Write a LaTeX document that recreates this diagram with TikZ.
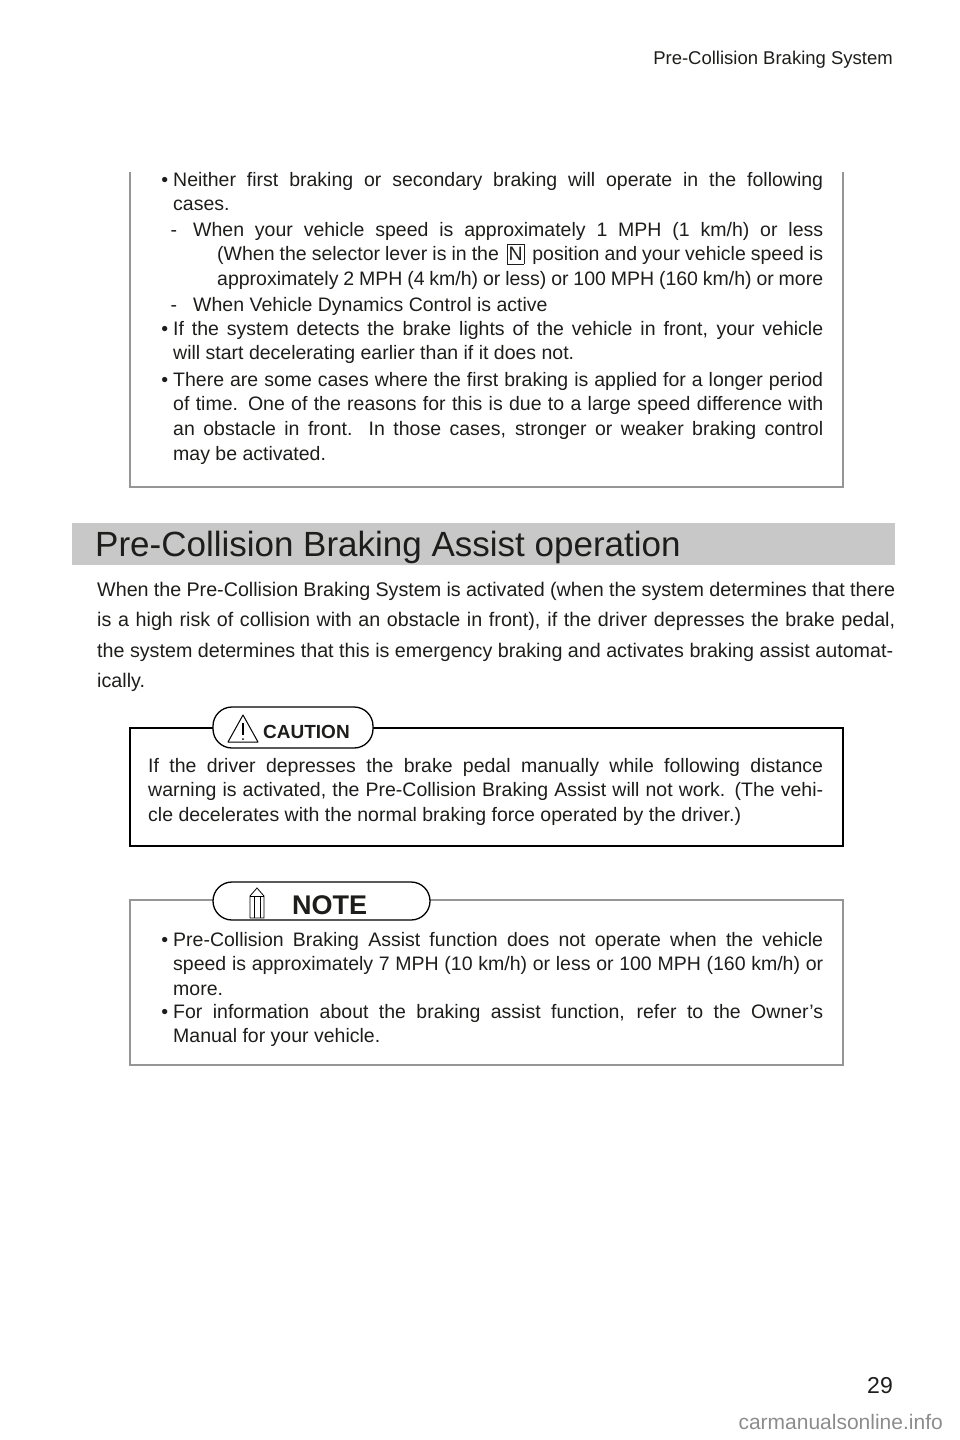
\documentclass[tikz,border=0pt]{standalone}
\usepackage{fontspec}
\setmainfont{Liberation Sans}
\usetikzlibrary{positioning}
\definecolor{colorbar}  {RGB}{200,200,200}
\definecolor{colorframe}{RGB}{150,150,150}
\definecolor{colortext} {RGB}{29 ,29 ,27 }
\definecolor{colormark} {RGB}{140,140,140}

\begin{document}
\begin{tikzpicture}[
    x=1pt, y=-1pt,
    txt/.style={text=colortext,font={\fontsize{19.5}{24.8}\selectfont},inner sep=0pt,anchor=base west,align=justify},
    para/.style={txt,font={\fontsize{19.7}{30.5}\selectfont}},
    frame/.style={draw=colorframe,line width=1.2pt},
    badge/.style={draw=black,line width=1.3pt,fill=white,rounded corners=19pt},
]
    \useasboundingbox (0,0) rectangle (960,1440);

    % header and page number
    \node[txt,anchor=base east,font={\fontsize{18.5}{20}\selectfont}] at (893,64) (header) {Pre-Collision Braking System};
    \node[txt,anchor=base east,font={\fontsize{23}{24}\selectfont}] at (893,1393) (page) {29};
    \node[anchor=base east,text=colormark,font={\fontsize{21}{24}\selectfont},inner sep=0pt] at (943,1429) (mark) {carmanualsonline.info};

    % first frame
    \draw[frame] (130,172) -- (130,487) -- (843,487) -- (843,172);
    \node[txt,text width=650pt] at (173,186) (neither) {\llap{\textbullet\hspace{5pt}}Neither first braking or secondary braking will operate in the following\linebreak cases.};
    \node[txt,text width=630pt] at (193,236) (speed) {\llap{-\hspace{16pt}}When your vehicle speed is approximately 1 MPH (1 km/h) or less\linebreak \hspace*{24pt}(When the selector lever is in the \,\fbox{\hspace{-2pt}N\hspace{-2pt}}\, position and your vehicle speed is\linebreak \hspace*{24pt}approximately 2 MPH (4 km/h) or less) or 100 MPH (160 km/h) or more};
    \node[txt] at (193,311) (vdc) {\llap{-\hspace{16pt}}When Vehicle Dynamics Control is active};
    \node[txt,text width=650pt] at (173,335) (lights) {\llap{\textbullet\hspace{5pt}}If the system detects the brake lights of the vehicle in front, your vehicle\linebreak will start decelerating earlier than if it does not.};
    \node[txt,text width=650pt] at (173,386) (longer) {\llap{\textbullet\hspace{5pt}}There are some cases where the first braking is applied for a longer period\linebreak of time. One of the reasons for this is due to a large speed difference with\linebreak an obstacle in front. In those cases, stronger or weaker braking control\linebreak may be activated.};

    % section heading
    \fill[colorbar] (72,523) rectangle (895,565);
    \node[txt,font={\fontsize{35}{36}\selectfont}] at (95,556) (title) {Pre-Collision Braking Assist operation};
    \node[para,text width=798pt] at (97,596) (intro) {When the Pre-Collision Braking System is activated (when the system determines that there\linebreak is a high risk of collision with an obstacle in front), if the driver depresses the brake pedal,\linebreak the system determines that this is emergency braking and activates braking assist automat-\\ically.};

    % caution frame
    \draw[black,line width=2.5pt] (130,728) rectangle (843,846);
    \draw[badge] (213,707) rectangle (373,748);
    \draw[line width=1pt,line join=round] (228,742) -- (243,715) -- (258,742) -- cycle;
    \draw[line width=1.2pt] (243,723) -- (243,735);
    \fill (243,739) circle (1pt);
    \node[txt,font={\fontsize{19}{20}\bfseries}] at (263,738) (caution) {CAUTION};
    \node[txt,text width=675pt] at (148,772) (warning) {If the driver depresses the brake pedal manually while following distance\linebreak warning is activated, the Pre-Collision Braking Assist will not work. (The vehi-\linebreak cle decelerates with the normal braking force operated by the driver.)};

    % note frame
    \draw[frame] (130,900) rectangle (843,1065);
    \draw[badge] (213,882) rectangle (430,920);
    \draw[line width=0.8pt] (250,918) -- (250,896) -- (257,888) -- (264,896) -- (264,918) -- cycle;
    \draw[line width=0.8pt] (250,896) -- (264,896) (254,896) -- (254,918) (260,896) -- (260,918);
    \node[txt,font={\fontsize{27}{28}\bfseries}] at (292,914) (note) {NOTE};
    \node[txt,text width=650pt] at (173,946) (assist) {\llap{\textbullet\hspace{5pt}}Pre-Collision Braking Assist function does not operate when the vehicle\linebreak speed is approximately 7 MPH (10 km/h) or less or 100 MPH (160 km/h) or\linebreak more.};
    \node[txt,text width=650pt] at (173,1018) (manual) {\llap{\textbullet\hspace{5pt}}For information about the braking assist function, refer to the Owner’s\linebreak Manual for your vehicle.};
\end{tikzpicture}
\end{document}
